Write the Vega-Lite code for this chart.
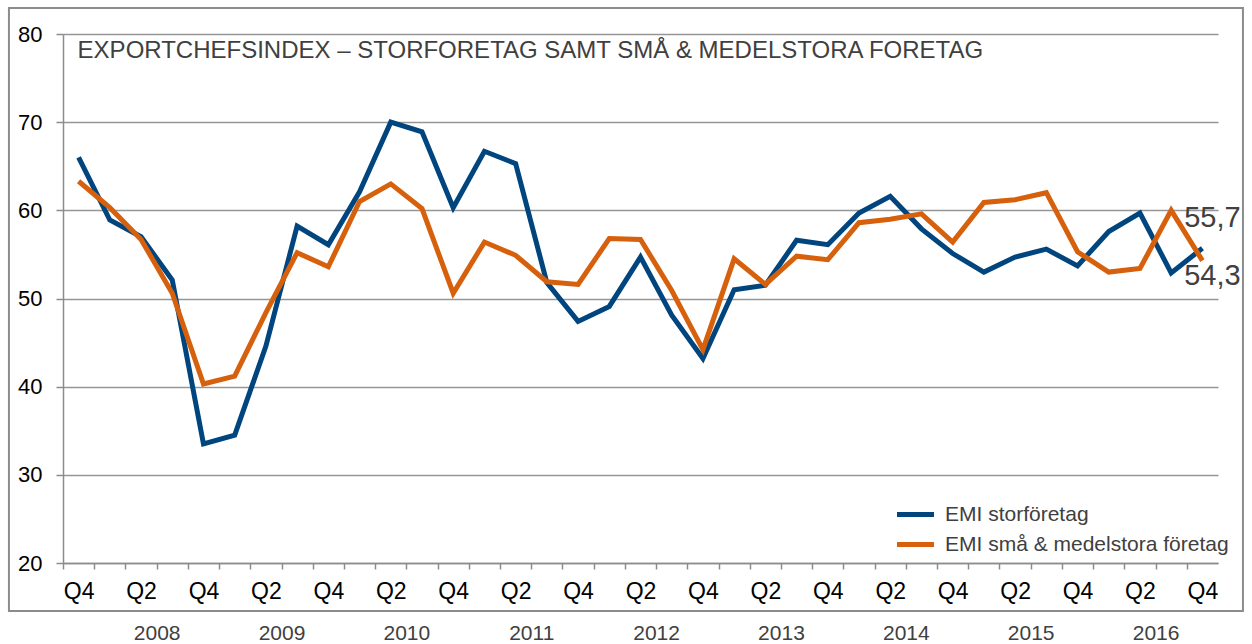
{
  "$schema": "https://vega.github.io/schema/vega-lite/v6.json",
  "width": 1155,
  "height": 529,
  "autosize": {"type": "none"},
  "padding": {"left": 63, "top": 34, "right": 34, "bottom": 81},
  "background": "white",
  "config": {
    "font": "Liberation Sans",
    "view": {"stroke": null},
    "locale": {"number": {"decimal": ",", "thousands": " ", "grouping": [3], "currency": ["", " kr"]}}
  },
  "datasets": {
    "emi": [
      {"q": "2007Q4", "serie": "EMI storföretag", "v": 66.0}, {"q": "2007Q4", "serie": "EMI små & medelstora företag", "v": 63.3},
      {"q": "2008Q1", "serie": "EMI storföretag", "v": 58.9}, {"q": "2008Q1", "serie": "EMI små & medelstora företag", "v": 60.3},
      {"q": "2008Q2", "serie": "EMI storföretag", "v": 57.0}, {"q": "2008Q2", "serie": "EMI små & medelstora företag", "v": 56.7},
      {"q": "2008Q3", "serie": "EMI storföretag", "v": 52.1}, {"q": "2008Q3", "serie": "EMI små & medelstora företag", "v": 50.6},
      {"q": "2008Q4", "serie": "EMI storföretag", "v": 33.5}, {"q": "2008Q4", "serie": "EMI små & medelstora företag", "v": 40.3},
      {"q": "2009Q1", "serie": "EMI storföretag", "v": 34.5}, {"q": "2009Q1", "serie": "EMI små & medelstora företag", "v": 41.2},
      {"q": "2009Q2", "serie": "EMI storföretag", "v": 44.6}, {"q": "2009Q2", "serie": "EMI små & medelstora företag", "v": 48.4},
      {"q": "2009Q3", "serie": "EMI storföretag", "v": 58.2}, {"q": "2009Q3", "serie": "EMI små & medelstora företag", "v": 55.2},
      {"q": "2009Q4", "serie": "EMI storföretag", "v": 56.1}, {"q": "2009Q4", "serie": "EMI små & medelstora företag", "v": 53.6},
      {"q": "2010Q1", "serie": "EMI storföretag", "v": 62.1}, {"q": "2010Q1", "serie": "EMI små & medelstora företag", "v": 61.0},
      {"q": "2010Q2", "serie": "EMI storföretag", "v": 70.0}, {"q": "2010Q2", "serie": "EMI små & medelstora företag", "v": 63.0},
      {"q": "2010Q3", "serie": "EMI storföretag", "v": 68.9}, {"q": "2010Q3", "serie": "EMI små & medelstora företag", "v": 60.2},
      {"q": "2010Q4", "serie": "EMI storföretag", "v": 60.3}, {"q": "2010Q4", "serie": "EMI små & medelstora företag", "v": 50.6},
      {"q": "2011Q1", "serie": "EMI storföretag", "v": 66.7}, {"q": "2011Q1", "serie": "EMI små & medelstora företag", "v": 56.4},
      {"q": "2011Q2", "serie": "EMI storföretag", "v": 65.3}, {"q": "2011Q2", "serie": "EMI små & medelstora företag", "v": 54.9},
      {"q": "2011Q3", "serie": "EMI storföretag", "v": 51.8}, {"q": "2011Q3", "serie": "EMI små & medelstora företag", "v": 51.9},
      {"q": "2011Q4", "serie": "EMI storföretag", "v": 47.4}, {"q": "2011Q4", "serie": "EMI små & medelstora företag", "v": 51.6},
      {"q": "2012Q1", "serie": "EMI storföretag", "v": 49.1}, {"q": "2012Q1", "serie": "EMI små & medelstora företag", "v": 56.8},
      {"q": "2012Q2", "serie": "EMI storföretag", "v": 54.7}, {"q": "2012Q2", "serie": "EMI små & medelstora företag", "v": 56.7},
      {"q": "2012Q3", "serie": "EMI storföretag", "v": 48.1}, {"q": "2012Q3", "serie": "EMI små & medelstora företag", "v": 50.9},
      {"q": "2012Q4", "serie": "EMI storföretag", "v": 43.2}, {"q": "2012Q4", "serie": "EMI små & medelstora företag", "v": 44.2},
      {"q": "2013Q1", "serie": "EMI storföretag", "v": 51.0}, {"q": "2013Q1", "serie": "EMI små & medelstora företag", "v": 54.5},
      {"q": "2013Q2", "serie": "EMI storföretag", "v": 51.5}, {"q": "2013Q2", "serie": "EMI små & medelstora företag", "v": 51.6},
      {"q": "2013Q3", "serie": "EMI storföretag", "v": 56.6}, {"q": "2013Q3", "serie": "EMI små & medelstora företag", "v": 54.8},
      {"q": "2013Q4", "serie": "EMI storföretag", "v": 56.1}, {"q": "2013Q4", "serie": "EMI små & medelstora företag", "v": 54.4},
      {"q": "2014Q1", "serie": "EMI storföretag", "v": 59.7}, {"q": "2014Q1", "serie": "EMI små & medelstora företag", "v": 58.6},
      {"q": "2014Q2", "serie": "EMI storföretag", "v": 61.6}, {"q": "2014Q2", "serie": "EMI små & medelstora företag", "v": 59.0},
      {"q": "2014Q3", "serie": "EMI storföretag", "v": 57.9}, {"q": "2014Q3", "serie": "EMI små & medelstora företag", "v": 59.6},
      {"q": "2014Q4", "serie": "EMI storföretag", "v": 55.1}, {"q": "2014Q4", "serie": "EMI små & medelstora företag", "v": 56.4},
      {"q": "2015Q1", "serie": "EMI storföretag", "v": 53.0}, {"q": "2015Q1", "serie": "EMI små & medelstora företag", "v": 60.9},
      {"q": "2015Q2", "serie": "EMI storföretag", "v": 54.7}, {"q": "2015Q2", "serie": "EMI små & medelstora företag", "v": 61.2},
      {"q": "2015Q3", "serie": "EMI storföretag", "v": 55.6}, {"q": "2015Q3", "serie": "EMI små & medelstora företag", "v": 62.0},
      {"q": "2015Q4", "serie": "EMI storföretag", "v": 53.7}, {"q": "2015Q4", "serie": "EMI små & medelstora företag", "v": 55.3},
      {"q": "2016Q1", "serie": "EMI storföretag", "v": 57.6}, {"q": "2016Q1", "serie": "EMI små & medelstora företag", "v": 53.0},
      {"q": "2016Q2", "serie": "EMI storföretag", "v": 59.7}, {"q": "2016Q2", "serie": "EMI små & medelstora företag", "v": 53.4},
      {"q": "2016Q3", "serie": "EMI storföretag", "v": 52.9}, {"q": "2016Q3", "serie": "EMI små & medelstora företag", "v": 60.0},
      {"q": "2016Q4", "serie": "EMI storföretag", "v": 55.7}, {"q": "2016Q4", "serie": "EMI små & medelstora företag", "v": 54.3}
    ]
  },
  "layer": [
    {
      "data": {"values": [{}]},
      "mark": {"type": "rect", "fill": "white", "fillOpacity": 0, "stroke": "#8c8c8c", "strokeWidth": 2},
      "encoding": {
        "x": {"datum": -0.0468, "type": "quantitative", "scale": {"domain": [0, 1], "nice": false, "zero": false}, "axis": null},
        "x2": {"datum": 1.0216},
        "y": {"datum": 1.0491, "type": "quantitative", "scale": {"domain": [0, 1], "nice": false, "zero": false}, "axis": null},
        "y2": {"datum": -0.0907}
      }
    },
    {
      "data": {"name": "emi"},
      "mark": {"type": "line", "strokeWidth": 5},
      "encoding": {
        "x": {
          "field": "q", "type": "ordinal",
          "axis": {
            "orient": "bottom", "title": null, "grid": false,
            "domainColor": "#8c8c8c", "domainWidth": 1.5, "tickColor": "#8c8c8c", "tickWidth": 1.5, "tickSize": 6,
            "tickOffset": -15.6, "labelOffset": 15.6,
            "labelExpr": "(slice(datum.value, 4) == 'Q2' || slice(datum.value, 4) == 'Q4') ? slice(datum.value, 4) : ''",
            "labelAngle": 0, "labelFontSize": 23, "labelColor": "#000000", "labelPadding": 11
          }
        },
        "y": {
          "field": "v", "type": "quantitative",
          "scale": {"domain": [20, 80], "nice": false, "zero": false},
          "axis": {
            "orient": "left", "title": null, "values": [20, 30, 40, 50, 60, 70, 80], "grid": true,
            "gridColor": "#969696", "gridWidth": 1.5, "domainColor": "#8c8c8c", "domainWidth": 1.5,
            "tickColor": "#8c8c8c", "tickWidth": 1.5, "tickSize": 7,
            "labelFontSize": 22, "labelColor": "#000000", "labelPadding": 14
          }
        },
        "color": {
          "field": "serie", "type": "nominal",
          "scale": {"domain": ["EMI storföretag", "EMI små & medelstora företag"], "range": ["#00457e", "#d6600c"]},
          "legend": {
            "title": null, "orient": "none", "legendX": 842, "legendY": 470,
            "symbolType": "M-2.3125,0H2.3125", "symbolSize": 256, "symbolStrokeWidth": 5,
            "labelFontSize": 21, "labelColor": "#404040", "labelOffset": 19, "rowPadding": 8,
            "padding": 0, "labelLimit": 400
          }
        }
      }
    },
    {
      "data": {"name": "emi"},
      "transform": [{"filter": "datum.serie == 'EMI storföretag'"}],
      "mark": {"type": "text", "fontSize": 29, "color": "#404040", "align": "center", "baseline": "middle", "dx": 10, "dy": -30},
      "encoding": {
        "x": {
          "field": "q", "type": "ordinal",
          "axis": {
            "orient": "bottom", "title": null, "grid": false, "domain": false, "ticks": false, "tickSize": 0,
            "labelExpr": "slice(datum.value, 4) == 'Q2' ? slice(datum.value, 0, 4) : ''",
            "labelAngle": 0, "labelOffset": 15.6, "labelFontSize": 21, "labelColor": "#404040", "labelPadding": 59
          }
        },
        "y": {"field": "v", "type": "quantitative", "scale": {"domain": [20, 80], "nice": false, "zero": false}, "axis": null},
        "text": {"condition": {"test": "datum.q == '2016Q4'", "field": "v", "type": "quantitative", "format": ".1f"}, "value": ""}
      }
    },
    {
      "data": {"name": "emi"},
      "transform": [{"filter": "datum.serie == 'EMI små & medelstora företag'"}],
      "mark": {"type": "text", "fontSize": 29, "color": "#404040", "align": "center", "baseline": "middle", "dx": 10, "dy": 15},
      "encoding": {
        "x": {"field": "q", "type": "ordinal", "axis": null},
        "y": {"field": "v", "type": "quantitative", "scale": {"domain": [20, 80], "nice": false, "zero": false}, "axis": null},
        "text": {"condition": {"test": "datum.q == '2016Q4'", "field": "v", "type": "quantitative", "format": ".1f"}, "value": ""}
      }
    },
    {
      "data": {"name": "emi"},
      "transform": [{"filter": "datum.serie == 'EMI storföretag'"}],
      "mark": {"type": "text", "fontSize": 24, "color": "#404040", "align": "left", "baseline": "middle", "dx": -1},
      "encoding": {
        "x": {"field": "q", "type": "ordinal", "axis": null},
        "y": {"datum": 78.1, "type": "quantitative", "scale": {"domain": [20, 80], "nice": false, "zero": false}, "axis": null},
        "text": {"condition": {"test": "datum.q == '2007Q4'", "value": "EXPORTCHEFSINDEX – STORFORETAG SAMT SMÅ & MEDELSTORA FORETAG"}, "value": ""}
      }
    }
  ],
  "resolve": {"scale": {"x": "independent", "y": "independent"}, "axis": {"x": "independent", "y": "independent"}}
}
